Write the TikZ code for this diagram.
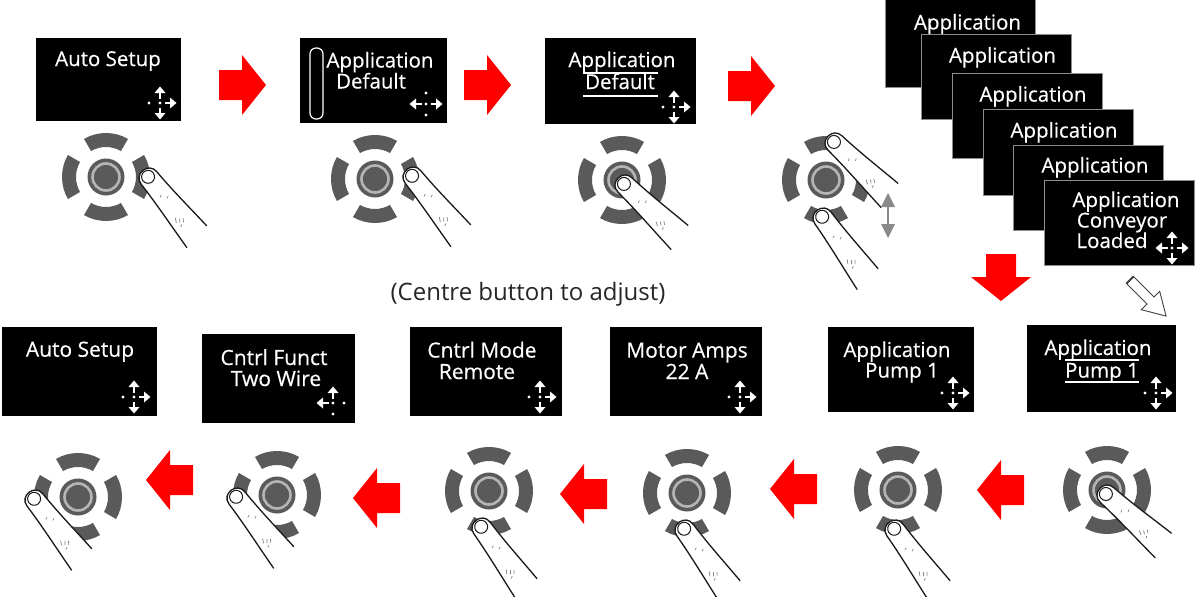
\documentclass[tikz,border=0pt]{standalone}
\usepackage{fontspec}
\setmainfont{Open Sans}
\newfontfamily\scrfont{Open Sans}[FakeBold=0.4]
\definecolor{padgray}{HTML}{5A5A5A}
\definecolor{ringgray}{HTML}{B5B5B5}
\definecolor{stackedge}{HTML}{8C8C8C}
\definecolor{capgray}{HTML}{262626}
\definecolor{fingerline}{HTML}{1A1A1A}
\definecolor{updown}{HTML}{8A8A8A}
\tikzset{
  screen/.style={fill=black, inner sep=0pt, draw=none},
  stack/.style={fill=black, draw=stackedge, line width=1pt, inner sep=0pt, minimum width=150pt, minimum height=85pt},
  scr/.style={text=white, font=\scrfont\fontsize{20.5}{21}\selectfont, inner sep=0pt, anchor=base},
  scrb/.style={scr, font=\scrfont\fontsize{21}{22}\selectfont},
  uline/.style={white, line width=2pt},
  redarr/.pic={\fill[red] (0,-15) -- (23,-15) -- (23,-30) -- (47,0) -- (23,30) -- (23,15) -- (0,15) -- cycle;},
  navarr/.pic={\fill[white] (16.5,0) -- (10,-5.5) -- (10,5.5) -- cycle; \fill[white] (4.5,-1.3) rectangle (10.5,1.3);},
  navdot/.pic={\fill[white] (11,0) circle[radius=1.7];},
  navctr/.pic={\fill[white] (0,0) circle[radius=1.7];},
  keypad/.pic={
    \foreach \a in {0,90,180,270}{
      \fill[padgray] (\a-30:44) arc[start angle=\a-30, end angle=\a+30, radius=44]
        -- (\a+30:30) arc[start angle=\a+30, end angle=\a-30, radius=30] -- cycle;}
    \fill[padgray] (0,0) circle[radius=18.5];
    \draw[ringgray, line width=2.6pt] (0,0) circle[radius=13.5];
  },
  finger/.pic={
    \fill[white] (-13,78) .. controls (-12,52) and (-10,26) .. (-10,0)
      .. controls (-10,-13) and (10,-13) .. (10,0)
      .. controls (11,26) and (14,50) .. (16,73) -- cycle;
    \draw[fingerline, line width=1.3pt, line cap=round] (-13,78) .. controls (-12,52) and (-10,26) .. (-10,0)
      .. controls (-10,-13) and (10,-13) .. (10,0)
      .. controls (11,26) and (14,50) .. (16,73);
    \draw[fingerline, line width=1pt] (0,-1.5) circle[radius=6.5];
    \draw[gray, line width=0.7pt, line cap=round] (-3,22) -- (-1,21) (2,27) -- (4,26)
      (-6,52) -- (-4,48) (-3,54) -- (-1,51) (0,56) -- (2,53) (-5,58) -- (-3,57);
  }
}
\newcommand\navicon[5]{%
  \pic at (#1) {navctr};
  \pic[rotate=0] at (#1) {nav#2};
  \pic[rotate=90] at (#1) {nav#3};
  \pic[rotate=180] at (#1) {nav#4};
  \pic[rotate=270] at (#1) {nav#5};}
\begin{document}
\begin{tikzpicture}[x=1pt,y=-1pt]
\useasboundingbox (0,0) rectangle (1195,597);
\fill[white] (0,0) rectangle (1195,597);

% ---------------- top row screens ----------------
\node[screen, minimum width=145pt, minimum height=83pt] (t1) at (108.5,79.5) {};
\node[scr] (t1a) at (108,66) {Auto Setup};
\navicon{160,103}{arr}{arr}{dot}{arr}

\node[screen, minimum width=147pt, minimum height=85pt] (t2) at (373.5,80.5) {};
\draw[white, line width=1.2pt, rounded corners=6pt] (310,48) rectangle (323,119);
\node[scr] (t2a) at (380,67.5) {Application};
\node[scr] (t2b) at (371,88.5) {Default};
\navicon{426,104}{arr}{dot}{arr}{dot}

\node[screen, minimum width=151pt, minimum height=86pt] (t3) at (620.5,81) {};
\node[scr] (t3a) at (622,67) {Application};
\node[scr] (t3b) at (620,89) {Default};
\draw[uline] (583,73) -- (658,73);
\draw[uline] (583,96) -- (658,96);
\navicon{674,107}{arr}{arr}{dot}{arr}

% ---------------- stacked screens ----------------
\node[stack, minimum height=89pt] (s1) at (960.5,42.5) {};
\node[scr] (s1a) at (967.5,29.5) {Application};
\node[stack] (s2) at (996,76.5) {};
\node[scr] (s2a) at (1002.5,62.6) {Application};
\node[stack] (s3) at (1027,115.5) {};
\node[scr] (s3a) at (1033,101.6) {Application};
\node[stack, minimum height=86pt] (s4) at (1058,152) {};
\node[scr] (s4a) at (1064,137.6) {Application};
\node[stack] (s5) at (1088,187.5) {};
\node[scr] (s5a) at (1095,172.6) {Application};
\node[stack] (s6) at (1119,222.5) {};
\node[scr] (s6a) at (1126,207) {Application};
\node[scr] (s6b) at (1122,227.5) {Conveyor};
\node[scr] (s6c) at (1112,248) {Loaded};
\navicon{1172,248}{arr}{arr}{arr}{arr}

% ---------------- red arrows top ----------------
\pic at (219,85) {redarr};
\pic at (464,85) {redarr};
\pic at (728,86) {redarr};
\pic[rotate=-90] at (1001,254) {redarr};

% hollow arrow
\begin{scope}[shift={(1130,280)}, rotate=-45]
  \filldraw[fill=white, draw=black!75, line width=0.9pt]
    (0,-5) -- (29,-5) -- (29,-13) -- (51,0) -- (29,13) -- (29,5) -- (0,5) -- cycle;
  \draw[black!75, line width=2pt] (0,-5) -- (0,5);
\end{scope}

% caption
\node[text=capgray, font=\fontsize{24}{26}\selectfont, inner sep=0pt, anchor=base] (cap) at (528,300) {(Centre button to adjust)};

% ---------------- bottom screens ----------------
\node[screen, minimum width=155pt, minimum height=89pt] (b1) at (79.5,371.5) {};
\node[scrb] (b1a) at (80,356.7) {Auto Setup};
\navicon{134,397}{arr}{arr}{dot}{arr}

\node[screen, minimum width=153pt, minimum height=89pt] (b2) at (278.5,378.5) {};
\node[scrb] (b2a) at (274,365) {Cntrl Funct};
\node[scrb] (b2b) at (276,386) {Two Wire};
\navicon{333,403}{dot}{arr}{arr}{dot}

\node[screen, minimum width=152pt, minimum height=89pt] (b3) at (486,371.5) {};
\node[scrb] (b3a) at (482,357.6) {Cntrl Mode};
\node[scrb] (b3b) at (477,379) {Remote};
\navicon{540,397}{arr}{arr}{dot}{arr}

\node[screen, minimum width=152pt, minimum height=89pt] (b4) at (686,371.5) {};
\node[scrb] (b4a) at (687,357.6) {Motor Amps};
\node[scrb] (b4b) at (687,379) {22 A};
\navicon{740,397}{arr}{arr}{dot}{arr}

\node[screen, minimum width=146pt, minimum height=85pt] (b5) at (901,369.5) {};
\node[scr] (b5a) at (897,357) {Application};
\node[scr] (b5b) at (902,377.6) {Pump 1};
\navicon{953,393}{arr}{arr}{dot}{arr}

\node[screen, minimum width=149pt, minimum height=87pt] (b6) at (1101.5,368.5) {};
\node[scr] (b6a) at (1098,355) {Application};
\node[scr] (b6b) at (1102,377.6) {Pump 1};
\draw[uline] (1065,360) -- (1139,360);
\draw[uline] (1065,382) -- (1139,382);
\navicon{1156,393}{arr}{arr}{dot}{arr}

% ---------------- red arrows bottom ----------------
\pic[rotate=180] at (193,480) {redarr};
\pic[rotate=180] at (400,498) {redarr};
\pic[rotate=180] at (607,494) {redarr};
\pic[rotate=180] at (817,489) {redarr};
\pic[rotate=180] at (1024,490) {redarr};

% ---------------- keypads and fingers, top ----------------
\pic at (106,177) {keypad};
\pic[rotate=38] at (149,178) {finger};
\pic at (375,179) {keypad};
\pic[rotate=38] at (413,177) {finger};
\pic at (622,180) {keypad};
\pic[rotate=45] at (625,185) {finger};
\pic at (826,180) {keypad};
\pic[rotate=35] at (823,218) {finger};
\pic[rotate=45] at (835,143) {finger};
% grey up-down arrow
\fill[updown] (888,193) -- (881,207) -- (895,207) -- cycle;
\fill[updown] (888,238) -- (881,224) -- (895,224) -- cycle;
\draw[updown, line width=1.6pt] (888,206) -- (888,225);

% ---------------- keypads and fingers, bottom ----------------
\pic at (78,497) {keypad};
\pic[rotate=37] at (35,500) {finger};
\pic at (277,495) {keypad};
\pic[rotate=37] at (237,498) {finger};
\pic at (489,491) {keypad};
\pic[rotate=35] at (482,528) {finger};
\pic at (687,493) {keypad};
\pic[rotate=35] at (685,530) {finger};
\pic at (898,490) {keypad};
\pic[rotate=35] at (895,530) {finger};
\pic at (1107,490) {keypad};
\pic[rotate=47] at (1107,495) {finger};
\end{tikzpicture}
\end{document}
